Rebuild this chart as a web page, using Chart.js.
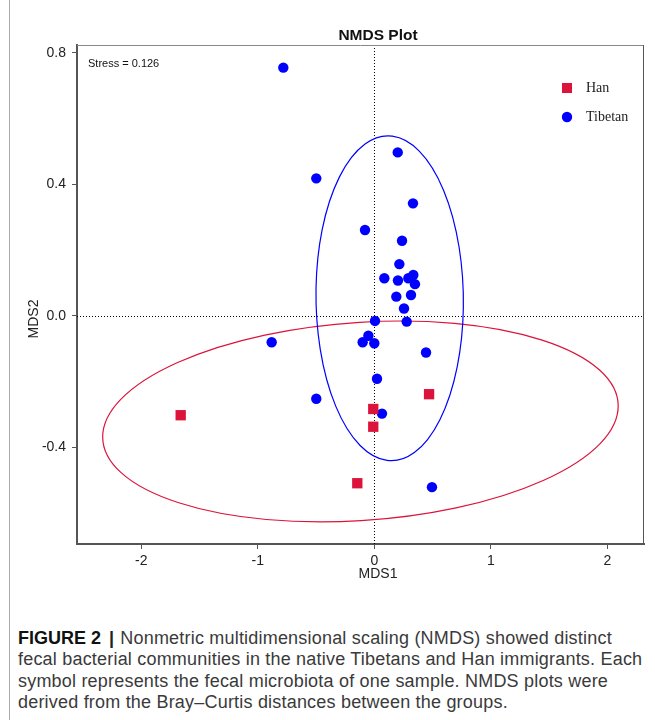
<!DOCTYPE html>
<html>
<head>
<meta charset="utf-8">
<script src="https://cdn.jsdelivr.net/npm/chart.js@4/dist/chart.umd.min.js"></script>
<style>
  body { margin: 0; background: #fff; width: 655px; height: 720px; position: relative; overflow: hidden; }
  .edge { position: absolute; left: 9px; top: 0; width: 1px; height: 720px; background: #aaa; }
  #nmds { position: absolute; left: 0; top: 0; }
  .caption {
    position: absolute; left: 18px; top: 628px;
    font-family: "Liberation Sans", Arial, sans-serif; font-size: 18px; line-height: 21.4px;
    color: #3a3a3a; white-space: nowrap; letter-spacing: 0.2px;
  }
  .caption b { color: #111; letter-spacing: 0; }
  .caption .bar { font-weight: bold; color: #222; margin: 0 6px 0 8px; }
</style>
</head>
<body>
<div class="edge"></div>
<canvas id="nmds" width="655" height="600"></canvas>
<div class="caption"><b>FIGURE 2</b><span class="bar">|</span>Nonmetric multidimensional scaling (NMDS) showed distinct<br>fecal bacterial communities in the native Tibetans and Han immigrants. Each<br>symbol represents the fecal microbiota of one sample. NMDS plots were<br>derived from the Bray–Curtis distances between the groups.</div>

<script>
// sample scores on the two NMDS axes
const groups = ['Han', 'Tibetan'];
const hanX = [-1.662, 0.470, -0.009, -0.009, -0.146];
const hanY = [-0.303, -0.239, -0.284, -0.338, -0.510];
const tibetanX = [-0.781, -0.498, 0.201, 0.332, -0.080, 0.238, 0.215, 0.086, 0.203, 0.292, 0.335, 0.349, 0.189,
                  0.315, 0.255, 0.006, 0.278, -0.051, -0.100, 0.000, 0.444, 0.023, 0.066, 0.495, -0.881, -0.498];
const tibetanY = [0.755, 0.418, 0.497, 0.342, 0.261, 0.228, 0.157, 0.114, 0.107, 0.114, 0.124, 0.096, 0.058,
                  0.063, 0.022, -0.016, -0.018, -0.061, -0.081, -0.084, -0.112, -0.192, -0.298, -0.522, -0.081, -0.253];

// confidence ellipses per group (centre, semi-axes, rotation in radians)
const ellipseCx = [-0.119, 0.132];
const ellipseCy = [-0.322, 0.053];
const ellipseRx = [2.213, 0.633];
const ellipseRy = [0.302, 0.494];
const ellipseAngle = [0.0217, -0.046];

const xTicks = [-2, -1, 0, 1, 2];
const yTicks = [-0.4, 0.0, 0.4, 0.8];
const stress = 0.126;

const HAN_COLOR = '#dc143c';
const TIB_COLOR = '#0000ff';
const SANS = '"Liberation Sans", Arial, sans-serif';

function toPoints(xs, ys) {
  return xs.map((v, i) => ({ x: v, y: ys[i] }));
}

const nmdsOverlay = {
  id: 'nmdsOverlay',
  beforeDatasetsDraw(chart) {
    const { ctx, chartArea: a, scales: { x, y } } = chart;
    ctx.save();
    // dotted reference lines through the origin
    ctx.strokeStyle = '#000';
    ctx.lineWidth = 1;
    ctx.setLineDash([1, 2]);
    const x0 = Math.round(x.getPixelForValue(0)) + 0.5;
    const y0 = Math.round(y.getPixelForValue(0)) + 0.5;
    ctx.beginPath();
    ctx.moveTo(x0, a.top); ctx.lineTo(x0, a.bottom);
    ctx.moveTo(a.left, y0); ctx.lineTo(a.right, y0);
    ctx.stroke();
    ctx.setLineDash([]);

    // ellipses are traced in data units, then stroked in pixels
    const sx = x.getPixelForValue(1) - x.getPixelForValue(0);
    const sy = y.getPixelForValue(1) - y.getPixelForValue(0);
    const colors = [HAN_COLOR, TIB_COLOR];
    ellipseCx.forEach((cx, i) => {
      ctx.beginPath();
      ctx.save();
      ctx.transform(sx, 0, 0, sy, x.getPixelForValue(0), y.getPixelForValue(0));
      ctx.ellipse(cx, ellipseCy[i], ellipseRx[i], ellipseRy[i], ellipseAngle[i], 0, Math.PI * 2);
      ctx.restore();
      ctx.strokeStyle = colors[i];
      ctx.lineWidth = 1.2;
      ctx.stroke();
    });
    ctx.restore();
  },
  afterDraw(chart) {
    const { ctx, chartArea: a } = chart;
    ctx.save();
    // box on the open sides
    ctx.lineWidth = 1;
    ctx.strokeStyle = '#888';
    ctx.beginPath();
    ctx.moveTo(a.left, a.top + 0.5); ctx.lineTo(a.right, a.top + 0.5);
    ctx.stroke();
    ctx.strokeStyle = '#555';
    ctx.beginPath();
    ctx.moveTo(a.right - 0.5, a.top); ctx.lineTo(a.right - 0.5, a.bottom);
    ctx.stroke();

    ctx.fillStyle = '#111';
    ctx.textAlign = 'center';
    ctx.textBaseline = 'middle';
    ctx.font = 'bold 15.5px ' + SANS;
    ctx.fillText('NMDS Plot', 378, a.top - 9);

    ctx.fillStyle = '#222';
    ctx.font = '14px ' + SANS;
    ctx.fillText('MDS1', 378, a.bottom + 30);
    ctx.save();
    ctx.translate(34, 319);
    ctx.rotate(-Math.PI / 2);
    ctx.fillText('MDS2', 0, 0);
    ctx.restore();

    ctx.textAlign = 'left';
    ctx.font = '11px ' + SANS;
    ctx.fillStyle = '#111';
    ctx.fillText('Stress = ' + stress.toFixed(3), a.left + 11, a.top + 19);

    // legend
    const lx = a.right - 77;
    ctx.font = '14px "Liberation Serif", "Times New Roman", serif';
    chart.data.datasets.forEach((ds, i) => {
      const ly = a.top + 43 + i * 29;
      ctx.fillStyle = ds.backgroundColor;
      ctx.beginPath();
      if (ds.pointStyle === 'rect') {
        ctx.rect(lx - 5, ly - 5, 10, 10);
      } else {
        ctx.arc(lx, ly, 5.2, 0, Math.PI * 2);
      }
      ctx.fill();
      ctx.fillStyle = '#222';
      ctx.fillText(ds.label, lx + 19, ly);
    });
    ctx.restore();
  }
};

new Chart(document.getElementById('nmds'), {
  type: 'scatter',
  data: {
    datasets: [
      {
        label: groups[0],
        data: toPoints(hanX, hanY),
        pointStyle: 'rect',
        pointRadius: 7.3,
        borderWidth: 0,
        backgroundColor: HAN_COLOR,
        borderColor: HAN_COLOR
      },
      {
        label: groups[1],
        data: toPoints(tibetanX, tibetanY),
        pointStyle: 'circle',
        pointRadius: 5.2,
        borderWidth: 0,
        backgroundColor: TIB_COLOR,
        borderColor: TIB_COLOR
      }
    ]
  },
  options: {
    responsive: false,
    animation: false,
    events: [],
    layout: { padding: { top: 45, right: 11, left: 0, bottom: 0 } },
    plugins: { legend: { display: false }, tooltip: { enabled: false } },
    scales: {
      x: {
        type: 'linear',
        min: -2.552,
        max: 2.315,
        afterBuildTicks: s => { s.ticks = xTicks.map(v => ({ value: v })); },
        afterFit: s => { s.height = 56; },
        grid: { drawOnChartArea: false, drawTicks: true, tickLength: 5, tickColor: '#555' },
        border: { color: '#555', width: 2 },
        ticks: { font: { family: SANS, size: 14 }, color: '#222', padding: 4, maxRotation: 0, callback: v => String(v) }
      },
      y: {
        type: 'linear',
        min: -0.695,
        max: 0.824,
        afterBuildTicks: s => { s.ticks = yTicks.map(v => ({ value: v })); },
        afterFit: s => { s.width = 77; },
        grid: { drawOnChartArea: false, drawTicks: true, tickLength: 5, tickColor: '#555' },
        border: { color: '#555', width: 2 },
        ticks: { font: { family: SANS, size: 14 }, color: '#222', padding: 6, callback: v => v.toFixed(1) }
      }
    }
  },
  plugins: [nmdsOverlay]
});
</script>
</body>
</html>
